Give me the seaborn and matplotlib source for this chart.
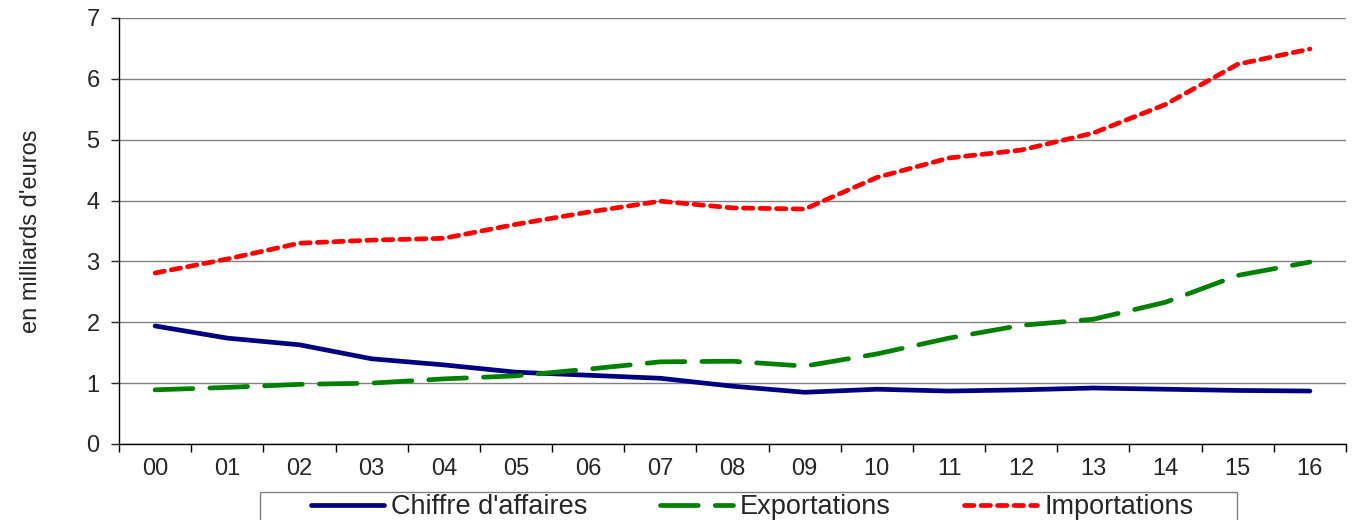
import pandas as pd
import seaborn as sns
import matplotlib.pyplot as plt
from matplotlib.patches import Rectangle

# years shown as two-digit labels
annees = ['00', '01', '02', '03', '04', '05', '06', '07', '08',
          '09', '10', '11', '12', '13', '14', '15', '16']

chiffre_affaires = [1.94, 1.74, 1.63, 1.40, 1.30, 1.18, 1.13, 1.08, 0.95,
                    0.85, 0.90, 0.87, 0.89, 0.92, 0.90, 0.88, 0.87]
exportations = [0.89, 0.93, 0.98, 1.00, 1.07, 1.12, 1.23, 1.35, 1.36,
                1.28, 1.48, 1.74, 1.95, 2.05, 2.33, 2.77, 2.99]
importations = [2.81, 3.04, 3.30, 3.35, 3.38, 3.61, 3.81, 3.99, 3.88,
                3.86, 4.38, 4.70, 4.83, 5.11, 5.58, 6.24, 6.49]

series = ["Chiffre d'affaires", 'Exportations', 'Importations']

df = pd.DataFrame({
    'annee': list(range(len(annees))) * 3,
    'valeur': chiffre_affaires + exportations + importations,
    'serie': [s for s in series for _ in annees],
})

sns.set_style('white')
plt.rcParams['font.family'] = ['Liberation Sans', 'DejaVu Sans']

W, H = 1355, 520
fig = plt.figure(figsize=(W / 100, H / 100), dpi=100)
ax = fig.add_axes([119 / W, 1 - 444 / H, (1346 - 119) / W, (444 - 18) / H])

couleurs = {"Chiffre d'affaires": '#000080', 'Exportations': '#008000', 'Importations': '#FF0000'}
tirets = {"Chiffre d'affaires": '', 'Exportations': (8, 3.6), 'Importations': (2.0, 1.5)}

sns.lineplot(data=df, x='annee', y='valeur', hue='serie', style='serie',
             palette=couleurs, dashes=tirets, linewidth=3.4, ax=ax, legend=False)

# grid and axes, Excel look
ax.set_ylim(0, 7)
ax.set_xlim(-0.5, len(annees) - 0.5)
ax.set_yticks(range(0, 8))
ax.yaxis.grid(True, color='#808080', linewidth=1)
ax.set_axisbelow(True)
ax.set_xticks([i + 0.5 for i in range(-1, len(annees))])
ax.set_xticklabels([])
ax.set_xticks(range(len(annees)), minor=True)
ax.set_xticklabels(annees, minor=True)
ax.tick_params(axis='x', which='major', direction='out', length=6, width=1, color='black', bottom=True)
ax.tick_params(axis='x', which='minor', length=0, labelsize=17, pad=10)
ax.tick_params(axis='y', direction='out', length=6, width=1, labelsize=17, left=True, pad=8)
for s in ['top', 'right']:
    ax.spines[s].set_visible(False)
for s in ['left', 'bottom']:
    ax.spines[s].set_color('black')
    ax.spines[s].set_linewidth(1)

ax.set_xlabel('')
ax.set_ylabel("en milliards d'euros", fontsize=17, labelpad=32)

# legend below the chart, with its own box
for line in ax.get_lines():
    line.set_dash_capstyle('round')
handles = ax.get_lines()[:3]
leg = fig.legend(handles, series, loc='center', ncol=3,
                 bbox_to_anchor=(752 / W, 1 - 507 / H),
                 fontsize=19.5, frameon=False, handlelength=2.7,
                 handletextpad=0.25, columnspacing=2.7, borderpad=0)
fig.patches.append(Rectangle((260 / W, -0.1), (1237 - 260) / W, 0.1 + 1 - 492 / H,
                             transform=fig.transFigure, fill=False,
                             edgecolor='#808080', linewidth=1))

fig.savefig('out.png', dpi=100)
